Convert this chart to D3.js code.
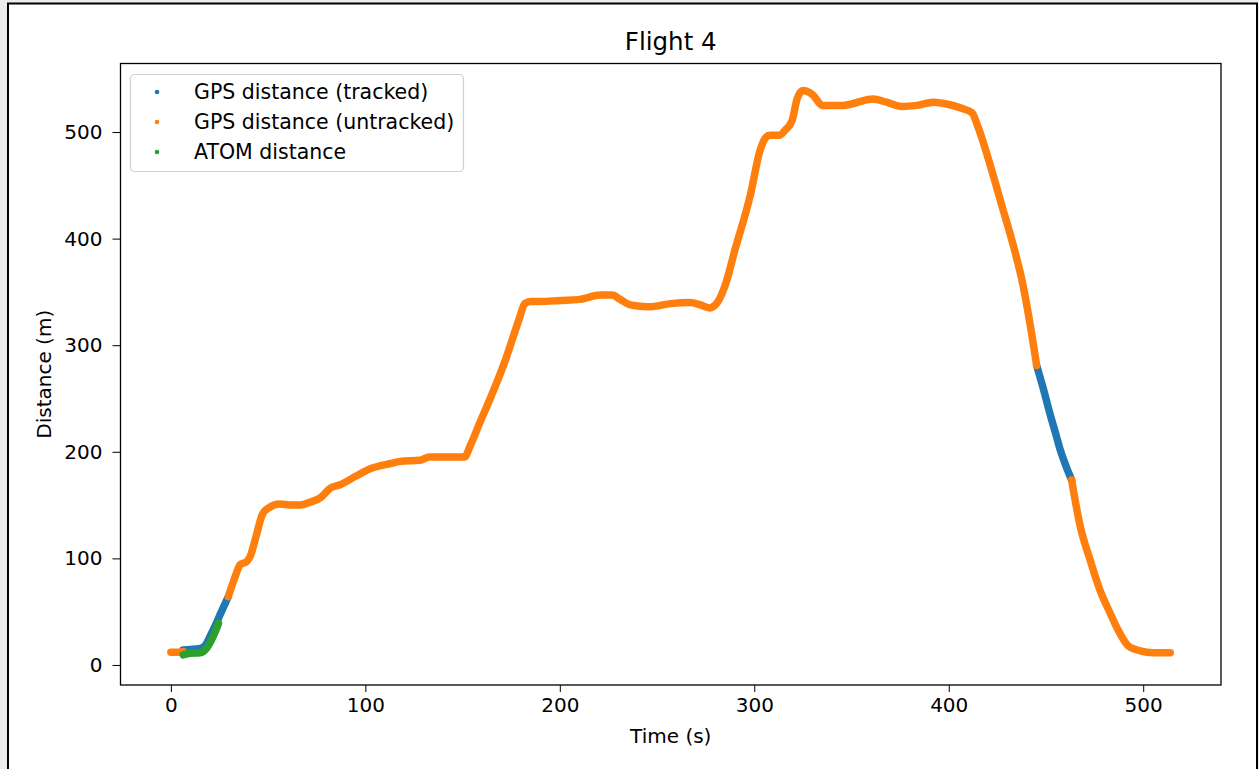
<!DOCTYPE html>
<html><head><meta charset="utf-8">
<script src="https://cdn.jsdelivr.net/npm/d3@7"></script>
<style>html,body{margin:0;padding:0;background:#ececec;}svg{display:block;font-family:"DejaVu Sans",sans-serif;}</style>
</head><body>
<svg id="c" width="1259" height="769"></svg>
<script>
// ---- data (time s, distance m) ----
const trackedStart = [[6.3,14],[10,14.5],[15,15.5],[17.5,18],[21,30],[26,50],[29.5,64]];
const trackedEnd = [[445.2,281],[448.5,260],[452,236],[455,217],[457.3,202],[460,188],[463.2,173.5]];
const untracked = [
  [[0,12],[3,12],[6.3,12.5]],
  [[29.5,64],[33,82.5],[35.6,94],[39,97],[40.8,102],[44,122],[47,141],[50,147],[56,151],[62,150],[66.5,150],[72,153],[77,157],[82,166],[87,169],[95,177],[102.5,184],[113,189],[118,191],[128,192],[133,195],[151,195],[154,206],[159,228],[164,249],[172,286],[179,324],[182,339],[185,341],[190,341],[200,342],[210,343],[221,347],[227,347],[231,343],[236,338],[239,337],[246,336],[257,339],[267,340],[272,338],[277,335],[281,340],[285,356],[290,389],[298,441],[303,483],[306,495],[308,497],[313,497],[316,502],[319.5,511],[322,531],[325,539],[330,535],[335,525],[345.7,525],[361,531],[368,528],[376,524],[383.7,525],[392,528],[397,527],[407,522],[412,518],[415,505],[420,477],[427,433],[434,388],[438,358],[441.8,320],[445.2,281]],
  [[463.2,173.5],[467.5,131],[472.7,98.5],[477.8,70],[482.9,49],[487,33],[492.2,18],[497,14],[502,12],[508,11.5],[513.9,11.5]]
];
const atom = [[6.3,9.5],[10,11],[15,11.5],[18.5,16],[20.5,22],[22.8,31],[24.5,39]];
const xTicks = [0,100,200,300,400,500];
const yTicks = [0,100,200,300,400,500];
const legendLabels = ["GPS distance (tracked)","GPS distance (untracked)","ATOM distance"];
const colors = ["#1f77b4","#ff7f0e","#2ca02c"];

const svg = d3.select("#c");
// figure frame
svg.append("rect").attr("x",8).attr("y",3.5).attr("width",1249).attr("height",800)
  .attr("fill","#fff").attr("stroke","#000").attr("stroke-width",2);

const L=120.5, R=1221, T=63.5, B=685;
const x = d3.scaleLinear().domain([-25.9,540]).range([L,R]);
const y = d3.scaleLinear().domain([-18.8,564.3]).range([B,T]);

const g = svg.append("g");
svg.append("clipPath").attr("id","pc").append("rect")
  .attr("x",L).attr("y",T).attr("width",R-L).attr("height",B-T);
const plot = g.append("g").attr("clip-path","url(#pc)");
const line = d3.line().x(d=>x(d[0])).y(d=>y(d[1])).curve(d3.curveMonotoneX);
function drawSeg(seg,col,w){
  plot.append("path").datum(seg).attr("d",line).attr("fill","none")
    .attr("stroke",col).attr("stroke-width",w).attr("stroke-linecap","round").attr("stroke-linejoin","round");
}
drawSeg(trackedStart,colors[0],7.5);
drawSeg(trackedEnd,colors[0],7.5);
untracked.forEach(s=>drawSeg(s,colors[1],7.5));
drawSeg(atom,colors[2],7.5);

// axes
const fs = 20;
const xa = g.append("g").attr("transform",`translate(0,${B})`)
  .call(d3.axisBottom(x).tickValues(xTicks).tickSize(7).tickPadding(6).tickSizeOuter(0));
const ya = g.append("g").attr("transform",`translate(${L},0)`)
  .call(d3.axisLeft(y).tickValues(yTicks).tickSize(8).tickPadding(10).tickSizeOuter(0));
[xa,ya].forEach(a=>{a.select(".domain").remove();a.selectAll("text").attr("font-size",fs).attr("font-family","DejaVu Sans").attr("fill","#000");a.selectAll("line").attr("stroke","#000");});
g.append("rect").attr("x",L).attr("y",T).attr("width",R-L).attr("height",B-T)
  .attr("fill","none").attr("stroke","#000").attr("stroke-width",1.3);

svg.append("text").attr("x",(L+R)/2).attr("y",50).attr("text-anchor","middle")
  .attr("font-size",24.5).text("Flight 4");
svg.append("text").attr("x",(L+R)/2).attr("y",743).attr("text-anchor","middle")
  .attr("font-size",fs).text("Time (s)");
svg.append("text").attr("transform",`translate(51,${(T+B)/2}) rotate(-90)`).attr("text-anchor","middle")
  .attr("font-size",fs).text("Distance (m)");

// legend
const lg = svg.append("g");
lg.append("rect").attr("x",130.5).attr("y",74.5).attr("width",333).attr("height",97).attr("rx",4)
  .attr("fill","#fff").attr("fill-opacity",0.8).attr("stroke","#d0d0d0").attr("stroke-width",1.2);
legendLabels.forEach((t,i)=>{
  const cy = 92 + i*30;
  lg.append("circle").attr("cx",157).attr("cy",cy).attr("r",2.3).attr("fill",colors[i]);
  lg.append("text").attr("x",194).attr("y",cy+7).attr("font-size",20.5).text(t);
});
</script>
</body></html>
